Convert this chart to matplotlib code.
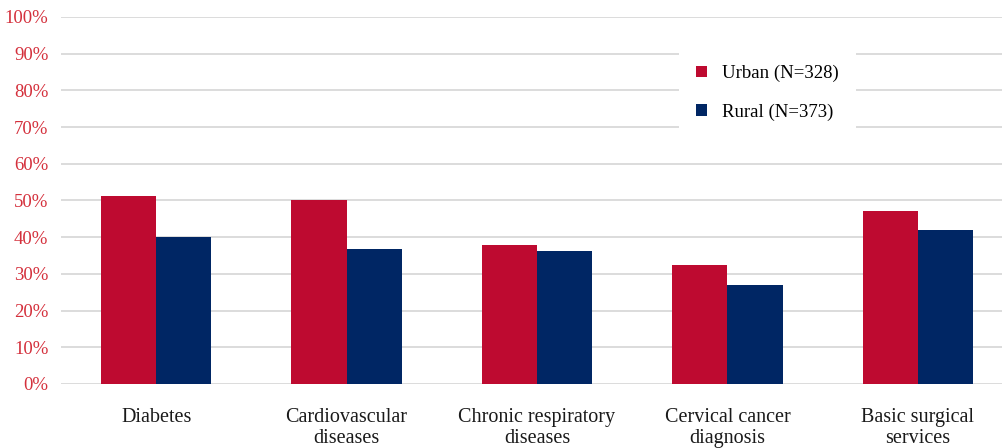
import numpy as np
import matplotlib.pyplot as plt
from matplotlib.ticker import FuncFormatter, MultipleLocator

plt.rcParams["font.family"] = ["Liberation Serif", "DejaVu Serif"]

categories = [
    "Diabetes",
    "Cardiovascular\ndiseases",
    "Chronic respiratory\ndiseases",
    "Cervical cancer\ndiagnosis",
    "Basic surgical\nservices",
]
urban = [51.2, 50.1, 37.9, 32.4, 47.1]
rural = [40.0, 36.8, 36.2, 27.0, 42.0]
series_labels = ["Urban (N=328)", "Rural (N=373)"]

URBAN_COLOR = "#be0a30"
RURAL_COLOR = "#002664"
TICK_COLOR = "#d4303c"
GRID_COLOR = "#d9d9d9"

W, H = 1003, 448
fig = plt.figure(figsize=(W / 100, H / 100), dpi=100)
# axes runs slightly past the right edge so the groups are spaced like the original
ax_w = 952
ax = fig.add_axes([61 / W, 1 - 384 / H, ax_w / W, 367 / H])

x = np.arange(len(categories))
width = 0.29
ax.bar(x - width / 2, urban, width, color=URBAN_COLOR, label=series_labels[0], zorder=3)
ax.bar(x + width / 2, rural, width, color=RURAL_COLOR, label=series_labels[1], zorder=3)

ax.set_xlim(-0.5, len(categories) - 0.5)
ax.set_ylim(0, 100)
ax.yaxis.set_major_locator(MultipleLocator(10))
ax.yaxis.set_major_formatter(FuncFormatter(lambda v, pos: f"{v:.0f}%"))
ax.set_xticks(x)
ax.set_xticklabels(categories, fontsize=14.5, color="#1a1a1a", linespacing=1.15, va="top")

ax.grid(axis="y", color=GRID_COLOR, linewidth=1.3, zorder=0)
ax.set_axisbelow(True)
for side in ax.spines.values():
    side.set_visible(False)
ax.tick_params(axis="both", length=0)
ax.tick_params(axis="y", colors=TICK_COLOR, labelsize=13.5, pad=9)
ax.tick_params(axis="x", pad=17)

leg = ax.legend(
    loc="upper left",
    bbox_to_anchor=(618 / ax_w, 1 - 31 / 367),
    frameon=True,
    fancybox=False,
    edgecolor="none",
    facecolor="white",
    framealpha=1,
    fontsize=13.5,
    handlelength=0.6,
    handleheight=0.6,
    handletextpad=0.8,
    labelspacing=1.15,
    borderpad=0.9,
    borderaxespad=0,
)
leg.set_zorder(5)

fig.savefig("out.png", dpi=100)
